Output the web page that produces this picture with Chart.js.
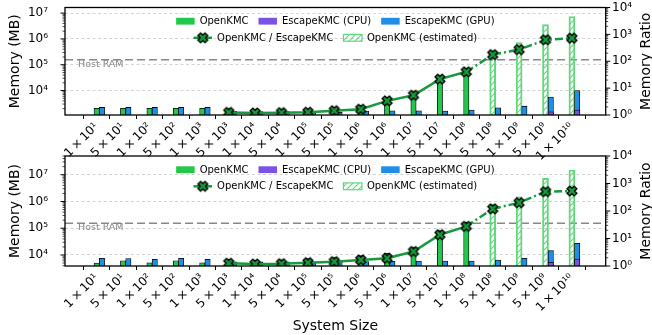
<!DOCTYPE html>
<html>
<head>
<meta charset="utf-8">
<script src="https://cdn.jsdelivr.net/npm/chart.js@4.4.1/dist/chart.umd.min.js"></script>
<style>
  body { margin: 0; background: #fff; }
  #wrap { position: relative; width: 652px; height: 335px; }
  canvas { position: absolute; left: 0; }
</style>
</head>
<body>
<div id="wrap">
  <canvas id="chartTop" width="652" height="160" style="top:0"></canvas>
  <canvas id="chartBottom" width="652" height="195" style="top:140px"></canvas>
</div>
<script>
// Tamaños del sistema (eje X)
const sizeLabels = ['1 × 10¹', '5 × 10¹', '1 × 10²', '5 × 10²', '1 × 10³', '5 × 10³', '1 × 10⁴',
    '5 × 10⁴', '1 × 10⁵', '5 × 10⁵', '1 × 10⁶', '5 × 10⁶', '1 × 10⁷', '5 × 10⁷', '1 × 10⁸',
    '5 × 10⁸', '1 × 10⁹', '5 × 10⁹', '1 × 10¹⁰'];

// Panel superior (MB)
const openkmcTop   = [2050, 2050, 2050, 2050, 2050, 2000, 1850, 1900, 1970, 2160, 2620, 5500, 9000, 35000, 70000, null, null, null, null];
const estimatedTop = [null, null, null, null, null, null, null, null, null, null, null, null, null, null, null, 370000, 730000, 3600000, 7400000];
const escapeCpuTop = [600, 600, 600, 600, 600, 500, 500, 500, 500, 520, 550, 600, 650, 700, 800, 900, 1000, 1510, 1750];
const escapeGpuTop = [2220, 2220, 2220, 2220, 2220, 1600, 1550, 1550, 1550, 1450, 1600, 1650, 1650, 1600, 1750, 2140, 2480, 5590, 10000];
const ratioTop     = [null, null, null, null, null, 1.25, 1.19, 1.22, 1.27, 1.44, 1.64, 3.36, 5.45, 21.7, 40.4, 176, 270, 630, 721];

// Panel inferior (MB)
const openkmcBottom   = [5000, 6100, 5100, 6100, 5100, 6900, 6500, 6650, 7400, 8060, 9460, 11600, 19800, 81800, 165000, null, null, null, null];
const estimatedBottom = [null, null, null, null, null, null, null, null, null, null, null, null, null, null, null, 780000, 1500000, 7300000, 15000000];
const escapeCpuBottom = [2000, 2000, 2000, 2000, 2000, 2000, 2000, 2000, 2000, 2100, 2200, 2300, 2400, 2500, 2700, 3000, 3400, 5340, 7100];
const escapeGpuBottom = [7500, 7400, 6900, 7500, 6900, 5500, 5500, 5500, 5600, 5600, 5700, 5800, 5900, 5970, 5970, 6500, 7540, 14500, 27300];
const ratioBottom     = [null, null, null, null, null, 1.26, 1.18, 1.21, 1.32, 1.44, 1.66, 1.92, 3.35, 13.7, 27.7, 120, 200, 506, 533];

const hostRam = 155000;

const GREEN = '#22c84b';
const PURPLE = '#7b52e6';
const BLUE = '#1f8fe5';
const LIGHT_GREEN = '#5ed97a';
const LINE_GREEN = '#159a3c';
const FONT = '"DejaVu Sans", sans-serif';
const TICK_SIZE = 12;

Chart.defaults.font.family = FONT;
Chart.defaults.color = '#000';

const SUP = {'0':'⁰','1':'¹','2':'²','3':'³','4':'⁴','5':'⁵','6':'⁶','7':'⁷','8':'⁸','9':'⁹','-':'⁻'};
const isPow10 = v => v > 0 && Math.abs(Math.log10(v) - Math.round(Math.log10(v))) < 1e-9;
const powLabel = v => isPow10(v) ? '10' + String(Math.round(Math.log10(v))).split('').map(c => SUP[c]).join('') : '';

// --- marcador X relleno ---
function makeXMarker(size, fill) {
    const c = document.createElement('canvas');
    c.width = c.height = size + 4;
    const g = c.getContext('2d');
    const a = 0.19, h = 0.5;
    const pts = [[-a, h], [a, h], [a, a], [h, a], [h, -a], [a, -a], [a, -h], [-a, -h], [-a, -a], [-h, -a], [-h, a], [-a, a]];
    g.translate(c.width / 2, c.height / 2);
    g.rotate(Math.PI / 4);
    g.beginPath();
    pts.forEach(([x, y], k) => k ? g.lineTo(x * size, y * size) : g.moveTo(x * size, y * size));
    g.closePath();
    g.fillStyle = fill;
    g.fill();
    g.lineWidth = 1.4;
    g.strokeStyle = '#000';
    g.stroke();
    return c;
}
const xMarker = makeXMarker(10, LINE_GREEN);

function makeHatch(ctx) {
    const c = document.createElement('canvas');
    c.width = c.height = 6;
    const g = c.getContext('2d');
    g.strokeStyle = LIGHT_GREEN;
    g.lineWidth = 1.1;
    g.beginPath();
    g.moveTo(0, 6); g.lineTo(6, 0);
    g.moveTo(-1, 1); g.lineTo(1, -1);
    g.moveTo(5, 7); g.lineTo(7, 5);
    g.stroke();
    return ctx.createPattern(c, 'repeat');
}

// sin padding extra de las etiquetas (el área del gráfico se fija a mano)
const noPad = s => { s.paddingTop = 0; s.paddingBottom = 0; s.paddingLeft = 0; s.paddingRight = 0; };

// --- plugin: marco, ticks log, Host RAM, leyenda, título derecho ---
const decoPlugin = {
    id: 'deco',
    beforeDatasetsDraw(chart) {
        const {ctx, chartArea} = chart;
        const y = chart.scales.y.getPixelForValue(hostRam);
        ctx.save();
        ctx.strokeStyle = '#888';
        ctx.lineWidth = 1.5;
        ctx.setLineDash([8, 4]);
        ctx.beginPath();
        ctx.moveTo(chartArea.left, y);
        ctx.lineTo(chartArea.right, y);
        ctx.stroke();
        ctx.setLineDash([]);
        ctx.fillStyle = '#888';
        ctx.font = '9.5px ' + FONT;
        ctx.textBaseline = 'middle';
        ctx.fillText('Host RAM', chartArea.left + 13, y + 4.5);
        ctx.restore();
    },
    afterDraw(chart) {
        const {ctx, chartArea} = chart;
        ctx.save();
        // ticks log mayores y menores
        const logTicks = (scale, x0, dir) => {
            const lo = Math.floor(Math.log10(scale.min)), hi = Math.ceil(Math.log10(scale.max));
            for (let e = lo; e <= hi; e++) {
                for (let k = 1; k <= 9; k++) {
                    const v = k * Math.pow(10, e);
                    if (v < scale.min || v > scale.max) continue;
                    const py = scale.getPixelForValue(v);
                    ctx.lineWidth = k === 1 ? 1 : 0.7;
                    ctx.beginPath();
                    ctx.moveTo(x0, py);
                    ctx.lineTo(x0 + dir * (k === 1 ? 4.5 : 2.5), py);
                    ctx.stroke();
                }
            }
        };
        ctx.strokeStyle = '#000';
        logTicks(chart.scales.y, chartArea.left, -1);
        logTicks(chart.scales.y1, chartArea.right, 1);
        ctx.lineWidth = 1.3;
        ctx.strokeRect(chartArea.left, chartArea.top, chartArea.right - chartArea.left, chartArea.bottom - chartArea.top);

        // título eje derecho
        ctx.font = '14px ' + FONT;
        ctx.fillStyle = '#000';
        ctx.textAlign = 'center';
        ctx.textBaseline = 'middle';
        ctx.translate(646.5, (chartArea.top + chartArea.bottom) / 2);
        ctx.rotate(-Math.PI / 2);
        ctx.fillText('Memory Ratio', 0, 0);
        ctx.restore();

        // leyenda
        ctx.save();
        ctx.font = '10px ' + FONT;
        ctx.textBaseline = 'middle';
        ctx.fillStyle = '#000';
        const cx = (chartArea.left + chartArea.right) / 2;
        const ds = chart.data.datasets;
        const rows = [1, 2].map(r => ds.filter(d => d.legendRow === r).sort((a, b) => a.legendPos - b.legendPos));
        const handle = 18.5, gapText = 5, gapItem = 10;
        rows.forEach((row, r) => {
            const y = chartArea.top + (r ? 30.3 : 13.7);
            const widths = row.map(d => handle + gapText + ctx.measureText(d.label).width);
            const total = widths.reduce((a, b) => a + b, 0) + gapItem * (row.length - 1);
            let x = cx - total / 2;
            row.forEach((d, k) => {
                if (d.type === 'line') {
                    ctx.strokeStyle = d.borderColor;
                    ctx.lineWidth = 2.5;
                    ctx.beginPath();
                    ctx.moveTo(x, y);
                    ctx.lineTo(x + handle, y);
                    ctx.stroke();
                    ctx.drawImage(xMarker, x + handle / 2 - xMarker.width / 2, y - xMarker.height / 2);
                } else {
                    ctx.fillStyle = d.backgroundColor;
                    ctx.fillRect(x, y - 3.4, handle, 6.8);
                    if (d.legendEdge) {
                        ctx.strokeStyle = d.legendEdge;
                        ctx.lineWidth = 1.2;
                        ctx.strokeRect(x, y - 3.4, handle, 6.8);
                    }
                }
                ctx.fillStyle = '#000';
                ctx.fillText(d.label, x + handle + gapText, y + 0.5);
                x += widths[k] + gapItem;
            });
        });
        ctx.restore();
    }
};

function buildPanel(canvasId, p) {
    const ctx = document.getElementById(canvasId).getContext('2d');
    const hatch = makeHatch(ctx);
    const pts = (arr, dx = 0) => arr.map((v, i) => ({x: i + dx, y: v})).filter(o => o.y !== null);

    return new Chart(ctx, {
        type: 'bar',
        data: {
            datasets: [
                {
                    type: 'line', label: 'OpenKMC / EscapeKMC', legendRow: 2, legendPos: 1,
                    data: p.ratio.map((v, i) => ({x: i, y: v})), yAxisID: 'y1', order: 0,
                    borderColor: LINE_GREEN, borderWidth: 2.5, tension: 0,
                    pointStyle: xMarker, pointRadius: 5,
                    segment: { borderDash: c => p.openkmc[c.p1DataIndex] === null ? [8, 3, 2, 3] : undefined }
                },
                {
                    label: 'OpenKMC', legendRow: 1, legendPos: 1, data: pts(p.openkmc), yAxisID: 'y', order: 3,
                    backgroundColor: GREEN, borderColor: '#000', borderWidth: 0.8, barThickness: 5.3, grouped: false, clip: 0
                },
                {
                    label: 'OpenKMC (estimated)', legendRow: 2, legendPos: 2, legendEdge: LIGHT_GREEN,
                    data: pts(p.estimated), yAxisID: 'y', order: 3,
                    backgroundColor: hatch, borderColor: LIGHT_GREEN, borderWidth: 1.3, barThickness: 6, grouped: false, clip: 0
                },
                {
                    label: 'EscapeKMC (GPU)', legendRow: 1, legendPos: 3, data: pts(p.gpu, 0.2), yAxisID: 'y', order: 2,
                    backgroundColor: BLUE, borderColor: '#000', borderWidth: 0.8, barThickness: 5.3, grouped: false, clip: 0
                },
                {
                    label: 'EscapeKMC (CPU)', legendRow: 1, legendPos: 2, data: pts(p.cpu, 0.2), yAxisID: 'y', order: 1,
                    backgroundColor: PURPLE, borderColor: '#000', borderWidth: 0.8, barThickness: 5.3, grouped: false, clip: 0
                }
            ]
        },
        options: {
            responsive: false,
            animation: false,
            devicePixelRatio: 1,
            events: [],
            layout: { padding: { top: p.padTop, left: 0, right: 0, bottom: 0 } },
            plugins: { legend: { display: false }, tooltip: { enabled: false } },
            scales: {
                x: {
                    type: 'linear', min: -1.2, max: 19.28, offset: false,
                    afterBuildTicks: ax => { ax.ticks = sizeLabels.map((_, i) => ({ value: i })); },
                    afterFit: s => { s.height = p.xHeight; noPad(s); },
                    ticks: {
                        autoSkip: false, maxRotation: 45, minRotation: 45, padding: 1,
                        font: { size: TICK_SIZE },
                        callback: v => (sizeLabels[v] || '').replace(/ /g, '\u2009')
                    },
                    grid: { drawOnChartArea: false, drawTicks: true, tickLength: 4, color: '#000', lineWidth: 1 },
                    border: { display: false },
                    title: { display: p.xTitle, text: 'System Size', font: { size: 14 }, padding: { top: 7.6, bottom: 0 } }
                },
                y: {
                    type: 'logarithmic', position: 'left', min: p.yMin, max: p.yMax,
                    afterFit: s => { s.width = 65; noPad(s); },
                    ticks: { autoSkip: false, padding: 17, font: { size: TICK_SIZE }, callback: powLabel },
                    grid: { drawTicks: false, lineWidth: 0.8, color: c => isPow10(c.tick.value) ? '#c8c8c8' : 'rgba(0,0,0,0)' },
                    border: { display: false, dash: [3, 2.5] },
                    title: { display: true, text: 'Memory (MB)', font: { size: 14 }, padding: { top: 6.6, bottom: 0 } }
                },
                y1: {
                    type: 'logarithmic', position: 'right', min: 1, max: 10000,
                    afterFit: s => { s.width = 46.3; noPad(s); },
                    ticks: { autoSkip: false, padding: 6.3, font: { size: TICK_SIZE }, callback: powLabel },
                    grid: { display: false, drawOnChartArea: false, drawTicks: false },
                    border: { display: false }
                }
            }
        },
        plugins: [decoPlugin]
    });
}

buildPanel('chartTop', {
    openkmc: openkmcTop, estimated: estimatedTop, cpu: escapeCpuTop, gpu: escapeGpuTop, ratio: ratioTop,
    yMin: 1130, yMax: 1.65e7, padTop: 5, xHeight: 45, xTitle: false
});
buildPanel('chartBottom', {
    openkmc: openkmcBottom, estimated: estimatedBottom, cpu: escapeCpuBottom, gpu: escapeGpuBottom, ratio: ratioBottom,
    yMin: 3880, yMax: 5.0e7, padTop: 16, xHeight: 69, xTitle: true
});
</script>
</body>
</html>
